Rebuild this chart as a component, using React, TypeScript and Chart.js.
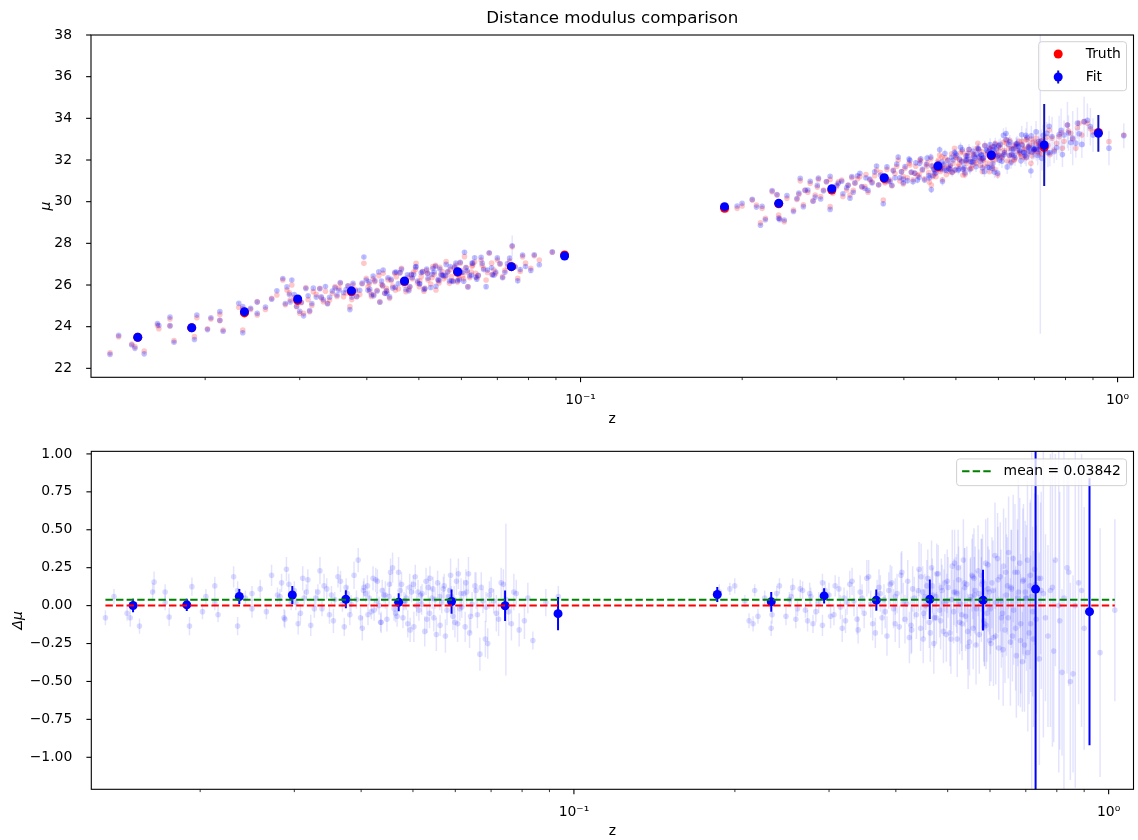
import React, { useEffect, useRef } from 'react';
import { Chart, registerables } from 'chart.js';
Chart.register(...registerables);

const FONT = 'DejaVu Sans';
const FS = 13.9;

const TITLE = 'Distance modulus comparison';
const X_LABEL = 'z';
const Y_LABEL_TOP = 'μ';
const Y_LABEL_BOTTOM = 'Δμ';
const LEGEND_TOP = ['Truth', 'Fit'];
const MEAN_DMU = 0.03842;
const LEGEND_BOTTOM = `mean = ${MEAN_DMU}`;

const Y_TICKS_TOP = [22, 24, 26, 28, 30, 32, 34, 36, 38];
const Y_TICKS_BOTTOM = [-1, -0.75, -0.5, -0.25, 0, 0.25, 0.5, 0.75, 1];
const X_MAJOR_TICKS = [0.1, 1];
const X_TICK_LABELS = ['10\u207B\u00B9', '10\u2070'];

const TOP_X_RANGE = [0.012259, 1.0707];
const TOP_Y_RANGE = [21.57, 38];
const BOT_X_RANGE = [0.012515, 1.113];
const BOT_Y_RANGE = [-1.211, 1.017];

// ---- individual objects: low-redshift sample ----
const Z_LOW = [
  0.0133, 0.0138, 0.0146, 0.0148, 0.0154, 0.0163, 0.0164, 0.0172, 0.0172, 0.0175,
  0.0193, 0.0191, 0.0202, 0.0205, 0.0213, 0.0213, 0.0216, 0.0231, 0.0235, 0.0235,
  0.0243, 0.0250, 0.0250, 0.0259, 0.0266, 0.0272, 0.0279, 0.0284, 0.0288, 0.0290,
  0.0296, 0.0300, 0.0305, 0.0313, 0.0318, 0.0327, 0.0332, 0.0341, 0.0349, 0.0357,
  0.0362, 0.0372, 0.0377, 0.0383, 0.0395, 0.0399, 0.0405, 0.0414, 0.0423, 0.0429,
  0.0435, 0.0441, 0.0454, 0.0464, 0.0473, 0.0484, 0.0494, 0.0501, 0.0508, 0.0520,
  0.0531, 0.0538, 0.0550, 0.0562, 0.0570, 0.0582, 0.0594, 0.0608, 0.0617, 0.0630,
  0.0638, 0.0653, 0.0667, 0.0676, 0.0690, 0.0700, 0.0716, 0.0731, 0.0746, 0.0764,
  0.0780, 0.0808, 0.0838, 0.0886, 0.0935,
  0.0282, 0.0287, 0.0293, 0.0302, 0.0308, 0.0311, 0.0316, 0.0322, 0.0329, 0.0335,
  0.0338, 0.0345, 0.0352, 0.0355, 0.0366, 0.0369, 0.0375, 0.0381, 0.0388, 0.0392,
  0.0402, 0.0408, 0.0411, 0.0418, 0.0426, 0.0432, 0.0438, 0.0447, 0.0451, 0.0458,
  0.0467, 0.0476, 0.0481, 0.0489, 0.0497, 0.0505, 0.0513, 0.0517, 0.0526, 0.0534,
  0.0543, 0.0547, 0.0556, 0.0566, 0.0575, 0.0586, 0.0590, 0.0599, 0.0603, 0.0612,
  0.0622, 0.0626, 0.0635, 0.0645, 0.0660, 0.0671, 0.0683, 0.0695, 0.0708, 0.0723,
  0.0738, 0.0755, 0.0772, 0.0790, 0.0820,
  0.0404, 0.0412, 0.0421, 0.0428, 0.0436, 0.0444, 0.0452, 0.0461, 0.0470, 0.0479,
  0.0486, 0.0493, 0.0502, 0.0511, 0.0519, 0.0529, 0.0537, 0.0545, 0.0553, 0.0561,
  0.0572, 0.0579, 0.0588, 0.0597, 0.0606, 0.0615, 0.0628, 0.0641, 0.0656, 0.0685,
];
const MU_LOW = [
  22.75, 23.52, 23.17, 23.04, 22.83, 24.06, 23.90, 24.37, 24.03, 23.33,
  24.43, 23.52, 23.90, 24.37, 24.59, 24.29, 23.84, 24.93, 23.84, 24.86,
  24.83, 25.20, 24.56, 24.83, 25.36, 25.52, 26.24, 25.76, 25.28, 26.00,
  24.96, 24.64, 24.64, 24.72, 25.68, 25.84, 25.20, 25.28, 25.92, 26.08,
  25.44, 24.96, 26.00, 25.44, 27.04, 26.32, 25.68, 26.16, 25.20, 26.56,
  25.84, 25.36, 26.40, 26.80, 25.68, 26.48, 27.04, 25.92, 26.64, 26.24,
  26.88, 25.76, 26.48, 27.12, 26.08, 26.80, 26.32, 27.36, 25.92, 26.96,
  26.56, 27.20, 26.24, 27.52, 26.72, 27.20, 26.40, 26.88, 27.84, 26.32,
  27.36, 26.80, 27.20, 27.57, 27.43,
  25.05, 25.62, 25.40, 25.15, 25.88, 25.30, 25.02, 25.55, 25.38, 25.70,
  25.12, 25.60, 25.45, 25.85, 25.62, 25.95, 25.30, 25.78, 25.55, 26.05,
  25.90, 25.45, 26.30, 25.75, 26.02, 25.60, 26.25, 25.95, 26.55, 25.82,
  26.18, 26.35, 25.90, 26.62, 26.10, 26.40, 25.85, 26.70, 26.05, 26.50,
  26.22, 26.85, 26.30, 26.62, 26.40, 26.95, 26.15, 26.70, 26.45, 26.85,
  26.35, 26.62, 27.10, 26.45, 26.80, 26.60, 27.05, 26.55, 27.00, 26.70,
  27.15, 26.90, 26.65, 27.05, 27.40,
  26.05, 25.55, 26.45, 25.95, 25.70, 26.20, 25.75, 26.60, 26.00, 25.80,
  26.30, 26.75, 26.20, 25.70, 26.55, 26.35, 26.95, 26.10, 26.65, 26.40,
  26.75, 26.20, 26.55, 27.05, 26.30, 26.60, 26.90, 26.35, 26.95, 26.50,
];
const DMU_LOW = [
  -0.08, 0.06, -0.05, -0.08, -0.135, 0.09, 0.155, 0.09, 0.02, -0.075,
  0.125, -0.135, -0.04, 0.06, 0.13, 0.02, -0.06, 0.19, -0.135, 0.10,
  0.05, -0.02, 0.08, 0.11, -0.04, 0.20, 0.07, 0.15, -0.09, 0.24,
  0.02, 0.10, -0.12, 0.05, 0.17, -0.02, 0.09, 0.13, -0.06, 0.04,
  0.19, -0.14, 0.08, 0.01, 0.30, -0.08, 0.12, 0.05, -0.03, 0.16,
  -0.11, 0.07, 0.22, -0.05, 0.10, 0.03, -0.16, 0.14, 0.00, 0.08,
  -0.09, 0.18, 0.04, -0.13, 0.11, 0.06, -0.07, 0.21, -0.01, 0.09,
  -0.18, 0.13, -0.32, 0.03, -0.25, 0.10, -0.05, 0.15, 0.04, -0.12,
  0.08, -0.10, -0.23, 0.02, 0.06,
  0.06, -0.08, 0.14, 0.02, -0.05, 0.18, 0.09, -0.13, 0.05, 0.23,
  -0.02, 0.11, 0.07, -0.10, 0.16, 0.01, 0.12, -0.06, 0.20, 0.04,
  -0.15, 0.08, 0.13, -0.04, 0.17, 0.00, 0.10, -0.09, 0.06, 0.25,
  -0.07, 0.14, 0.03, -0.12, 0.09, 0.19, -0.03, 0.07, -0.17, 0.12,
  0.05, -0.08, 0.15, 0.02, -0.20, 0.10, 0.06, -0.11, 0.16, -0.02,
  0.08, -0.14, 0.21, 0.01, -0.06, 0.12, -0.22, 0.07, 0.03, -0.09,
  0.14, -0.04, 0.09, -0.16, 0.05,
  0.10, -0.06, 0.18, 0.03, -0.11, 0.07, 0.14, -0.02, 0.22, -0.08,
  0.05, 0.12, -0.14, 0.09, 0.01, 0.16, -0.05, 0.11, -0.19, 0.06,
  0.13, -0.03, 0.20, 0.04, -0.12, 0.08, 0.15, -0.07, 0.10, -0.01,
];
const ERR_LOW = [
  0.05, 0.05, 0.05, 0.06, 0.05, 0.06, 0.07, 0.05, 0.05, 0.06,
  0.06, 0.06, 0.05, 0.05, 0.06, 0.05, 0.05, 0.07, 0.06, 0.06,
  0.05, 0.06, 0.05, 0.06, 0.05, 0.07, 0.05, 0.06, 0.06, 0.08,
  0.05, 0.06, 0.07, 0.05, 0.07, 0.06, 0.05, 0.08, 0.06, 0.05,
  0.07, 0.06, 0.05, 0.06, 0.08, 0.07, 0.06, 0.05, 0.07, 0.08,
  0.06, 0.05, 0.09, 0.06, 0.07, 0.05, 0.08, 0.06, 0.07, 0.06,
  0.09, 0.08, 0.06, 0.07, 0.08, 0.06, 0.09, 0.10, 0.07, 0.08,
  0.10, 0.09, 0.11, 0.08, 0.10, 0.09, 0.12, 0.10, 0.50, 0.11,
  0.09, 0.12, 0.06, 0.09, 0.07,
  0.05, 0.06, 0.07, 0.05, 0.06, 0.08, 0.05, 0.07, 0.06, 0.09,
  0.05, 0.07, 0.06, 0.08, 0.07, 0.05, 0.06, 0.07, 0.09, 0.06,
  0.08, 0.06, 0.07, 0.05, 0.08, 0.06, 0.07, 0.08, 0.06, 0.10,
  0.07, 0.08, 0.06, 0.09, 0.07, 0.08, 0.07, 0.06, 0.10, 0.08,
  0.07, 0.09, 0.08, 0.07, 0.11, 0.08, 0.07, 0.10, 0.09, 0.08,
  0.09, 0.10, 0.11, 0.08, 0.09, 0.10, 0.12, 0.09, 0.08, 0.11,
  0.10, 0.09, 0.12, 0.11, 0.10,
  0.06, 0.07, 0.08, 0.06, 0.07, 0.09, 0.07, 0.08, 0.10, 0.07,
  0.08, 0.09, 0.10, 0.08, 0.07, 0.09, 0.10, 0.08, 0.11, 0.09,
  0.08, 0.10, 0.11, 0.09, 0.12, 0.10, 0.09, 0.11, 0.12, 0.10,
];

// ---- individual objects: high-redshift sample ----
const Z_HIGH = [
  0.1957, 0.1999, 0.2088, 0.2126, 0.2178, 0.2163, 0.2209, 0.2274, 0.2322, 0.2338,
  0.2347, 0.2395, 0.2423, 0.2492, 0.2529, 0.2565, 0.2619, 0.2677, 0.2735, 0.2773,
  0.2834, 0.2916, 0.2916, 0.2999, 0.3064, 0.3130, 0.3175, 0.3243, 0.3313, 0.3385,
  0.3458, 0.3558, 0.3662, 0.3741, 0.3822, 0.3904, 0.3989, 0.4104, 0.4192, 0.4282,
  0.4406, 0.4500, 0.4530, 0.4664, 0.4764, 0.4866, 0.4971, 0.5078, 0.5151, 0.5262,
  0.5376, 0.5493, 0.5611, 0.5773, 0.5856, 0.5981, 0.6025, 0.6198, 0.6332, 0.6469,
  0.6608, 0.6751, 0.6897, 0.6996, 0.7147, 0.7459, 0.7618, 0.7783, 0.7894, 0.8066,
  0.8182, 0.8360, 0.8479, 0.8662, 0.8787, 0.9638, 1.0270, 0.1854, 0.1870,
  0.2550, 0.2600, 0.2650, 0.2710, 0.2760, 0.2800, 0.2870, 0.2950, 0.3020, 0.3080, 0.3150, 0.3200,
  0.3220, 0.3280, 0.3340, 0.3400, 0.3430, 0.3490, 0.3530, 0.3590, 0.3620, 0.3690,
  0.3720, 0.3770, 0.3800, 0.3850, 0.3880, 0.3930, 0.3960, 0.3990,
  0.4020, 0.4060, 0.4090, 0.4130, 0.4160, 0.4210, 0.4240, 0.4300, 0.4330, 0.4370,
  0.4420, 0.4450, 0.4490, 0.4550, 0.4590, 0.4620, 0.4680, 0.4710, 0.4750, 0.4800,
  0.4830, 0.4880, 0.4910, 0.4940, 0.4980, 0.4720, 0.4460, 0.4270,
  0.5010, 0.5050, 0.5100, 0.5130, 0.5180, 0.5210, 0.5240, 0.5290, 0.5320, 0.5350,
  0.5400, 0.5430, 0.5460, 0.5520, 0.5550, 0.5580, 0.5630, 0.5660, 0.5700, 0.5730,
  0.5780, 0.5810, 0.5840, 0.5890, 0.5920, 0.5950, 0.5990, 0.5200, 0.5600, 0.5900,
  0.6050, 0.6090, 0.6130, 0.6160, 0.6230, 0.6270, 0.6300, 0.6360, 0.6400, 0.6440,
  0.6500, 0.6550, 0.6580, 0.6640, 0.6680, 0.6720, 0.6780, 0.6820, 0.6850, 0.6930,
  0.6960, 0.7020, 0.7050, 0.7100, 0.7130, 0.7180, 0.7230, 0.7270, 0.7320, 0.7380,
  0.7420, 0.7480,
  0.7550, 0.7700, 0.7850, 0.7950, 0.8100, 0.8250, 0.8420, 0.8580, 0.8900, 0.9000,
  0.4510, 0.4570, 0.4640, 0.4690, 0.4770, 0.4850, 0.4920, 0.4990, 0.5070, 0.5140,
  0.5230, 0.5310, 0.5380, 0.5450, 0.5510, 0.5570, 0.5650, 0.5720, 0.5790, 0.5860,
  0.5940, 0.6010, 0.6080, 0.6150, 0.6210, 0.6290, 0.6350, 0.6420, 0.6490, 0.6570,
  0.6630, 0.6700, 0.6760, 0.6840, 0.6910, 0.6980, 0.7060, 0.7140, 0.7210, 0.7300,
];
const MU_HIGH = [
  29.68, 29.79, 30.08, 29.84, 29.68, 28.99, 29.20, 30.48, 30.32, 29.36,
  29.20, 29.04, 30.16, 29.60, 30.11, 31.00, 30.56, 30.88, 30.32, 31.07,
  30.56, 31.07, 29.76, 30.72, 31.04, 30.56, 30.32, 30.88, 31.20, 30.72,
  31.04, 31.52, 30.08, 30.96, 31.52, 32.00, 31.20, 31.76, 31.36, 32.00,
  31.68, 30.80, 31.20, 32.24, 31.60, 31.44, 32.56, 32.00, 31.28, 32.32,
  31.76, 32.80, 32.00, 31.44, 32.64, 31.28, 32.24, 32.96, 31.92, 32.64,
  32.16, 32.96, 31.84, 32.48, 32.80, 33.44, 32.48, 33.12, 32.56, 33.68,
  33.28, 32.56, 33.76, 33.84, 33.76, 32.88, 33.20, 29.68, 29.60,
  30.35, 29.85, 30.45, 30.05, 30.70, 30.25, 30.95, 30.40, 30.95, 30.25, 30.80, 31.15,
  30.55, 31.10, 30.70, 31.30, 30.45, 30.95, 31.25, 30.80, 31.40, 30.90,
  31.55, 31.05, 30.75, 31.35, 31.70, 31.00, 31.45, 30.85,
  31.60, 31.15, 31.85, 31.40, 31.05, 31.70, 31.25, 31.95, 31.50, 31.10,
  31.85, 31.40, 32.05, 31.55, 31.20, 31.90, 31.45, 32.15, 31.75, 31.30,
  32.00, 31.65, 32.30, 31.85, 31.50, 31.05, 30.95, 31.30,
  32.10, 31.70, 32.35, 31.95, 31.55, 32.20, 31.85, 32.50, 32.05, 31.60,
  32.25, 31.95, 32.55, 32.10, 31.75, 32.40, 32.00, 32.70, 32.25, 31.85,
  32.50, 32.10, 31.70, 32.35, 32.80, 32.05, 32.45, 31.30, 31.45, 31.55,
  32.60, 32.15, 32.85, 32.35, 31.95, 32.55, 32.95, 32.25, 32.70, 32.05,
  32.45, 32.90, 32.30, 32.75, 32.15, 32.55, 33.00, 32.35, 32.70, 32.20,
  32.85, 32.50, 33.05, 32.40, 32.75, 32.60, 32.30, 32.95, 32.55, 33.10,
  32.70, 32.25,
  33.05, 32.80, 33.30, 32.90, 33.40, 33.00, 33.55, 33.20, 33.50, 33.35,
  31.75, 31.35, 32.00, 31.55, 32.10, 31.70, 31.40, 32.15, 31.80, 32.40,
  31.95, 31.60, 32.30, 31.85, 32.50, 32.05, 31.70, 32.35, 32.60, 31.95,
  32.25, 32.70, 32.10, 32.45, 32.80, 32.20, 32.55, 32.00, 32.75, 32.35,
  32.90, 32.50, 32.10, 32.65, 33.00, 32.40, 32.80, 32.30, 32.95, 32.60,
];
const DMU_HIGH = [
  0.11, 0.13, 0.03, -0.10, 0.10, -0.12, -0.07, 0.05, 0.02, -0.15,
  -0.06, 0.08, 0.13, -0.07, 0.04, 0.12, -0.02, 0.10, -0.10, 0.06,
  -0.04, 0.15, -0.13, 0.07, -0.06, 0.11, -0.15, 0.02, 0.16, -0.09,
  0.05, 0.19, -0.18, 0.08, -0.04, 0.14, -0.12, 0.22, 0.01, -0.16,
  0.10, -0.22, 0.06, 0.25, -0.08, 0.12, -0.19, 0.04, 0.28, -0.11,
  0.15, -0.24, 0.07, 0.20, -0.14, 0.09, -0.25, 0.31, -0.05, 0.13,
  -0.20, 0.22, -0.37, 0.05, -0.12, 0.18, -0.08, 0.10, -0.30, 0.00,
  -0.44, 0.25, -0.50, 0.00, 0.15, -0.31, -0.03, 0.06, 0.09,
  0.06, -0.09, 0.11, -0.03, 0.08, -0.12, 0.02, 0.10, -0.07, 0.13, -0.01, 0.05,
  -0.10, 0.14, 0.03, -0.16, 0.09, -0.05, 0.18, 0.01, -0.12, 0.07,
  0.12, -0.08, 0.04, -0.20, 0.10, 0.15, -0.02, 0.06,
  0.08, -0.14, 0.20, 0.02, -0.09, 0.16, -0.21, 0.11, 0.05, -0.06,
  0.24, -0.15, 0.09, 0.00, 0.18, -0.11, 0.13, -0.25, 0.06, 0.21,
  -0.03, 0.10, -0.17, 0.15, 0.03, -0.08, 0.19, -0.13,
  0.12, -0.18, 0.26, -0.04, 0.09, -0.22, 0.17, 0.01, -0.12, 0.30,
  -0.07, 0.14, -0.27, 0.06, 0.20, -0.15, 0.10, -0.02, 0.23, -0.19,
  0.04, 0.16, -0.10, 0.28, -0.05, 0.11, -0.23, 0.08, 0.18, -0.13,
  0.15, -0.21, 0.33, 0.02, -0.28, 0.19, -0.08, 0.26, -0.16, 0.07,
  0.35, -0.24, 0.11, -0.03, 0.22, -0.33, 0.09, 0.28, -0.12, 0.17,
  -0.26, 0.05, 0.30, -0.18, 0.13, 0.06, -0.22, 0.24, -0.09, 0.18,
  -0.35, 0.10,
  0.08, -0.20, 0.12, 0.30, -0.10, 0.05, 0.22, -0.45, 0.10, -0.15,
  -0.05, 0.13, -0.18, 0.07, 0.21, -0.10, 0.02, 0.16, -0.22, 0.09,
  0.25, -0.06, 0.12, -0.17, 0.04, 0.19, -0.26, 0.08, 0.14, -0.12,
  0.27, -0.02, 0.10, -0.20, 0.17, 0.03, -0.29, 0.22, -0.08, 0.12,
  0.31, -0.15, 0.05, -0.23, 0.16, 0.09, -0.31, 0.20, -0.04, 0.14,
];
const ERR_HIGH = [
  0.04, 0.05, 0.04, 0.05, 0.04, 0.05, 0.05, 0.05, 0.04, 0.05,
  0.06, 0.05, 0.05, 0.06, 0.05, 0.06, 0.05, 0.06, 0.07, 0.06,
  0.07, 0.06, 0.07, 0.08, 0.07, 0.08, 0.09, 0.08, 0.09, 0.10,
  0.09, 0.11, 0.10, 0.12, 0.11, 0.13, 0.12, 0.14, 0.13, 0.15,
  0.14, 0.16, 0.15, 0.18, 0.17, 0.19, 0.18, 0.20, 0.22, 0.21,
  0.23, 0.22, 0.25, 0.24, 0.26, 0.28, 0.25, 0.30, 0.29, 0.32,
  0.30, 0.35, 0.33, 0.40, 0.45, 0.50, 0.55, 0.90, 0.60, 1.10,
  0.55, 0.70, 0.65, 1.20, 0.80, 0.82, 0.60, 0.04, 0.05,
  0.05, 0.06, 0.06, 0.05, 0.07, 0.06, 0.07, 0.06, 0.08, 0.07, 0.08, 0.07,
  0.08, 0.09, 0.10, 0.09, 0.11, 0.10, 0.12, 0.09, 0.11, 0.10,
  0.12, 0.11, 0.10, 0.13, 0.12, 0.11, 0.13, 0.12,
  0.13, 0.14, 0.15, 0.13, 0.16, 0.14, 0.17, 0.15, 0.14, 0.16,
  0.18, 0.15, 0.17, 0.16, 0.19, 0.17, 0.18, 0.20, 0.16, 0.19,
  0.18, 0.17, 0.21, 0.19, 0.18, 0.20, 0.22, 0.19,
  0.20, 0.22, 0.24, 0.21, 0.23, 0.25, 0.22, 0.26, 0.24, 0.27,
  0.23, 0.25, 0.28, 0.26, 0.24, 0.27, 0.29, 0.25, 0.30, 0.26,
  0.28, 0.31, 0.27, 0.29, 0.32, 0.28, 0.30, 0.26, 0.33, 0.29,
  0.30, 0.32, 0.35, 0.31, 0.34, 0.36, 0.33, 0.38, 0.35, 0.40,
  0.37, 0.42, 0.39, 0.36, 0.45, 0.41, 0.75, 0.43, 0.46, 0.50,
  0.44, 0.48, 0.52, 0.47, 0.55, 9.0, 0.58, 0.50, 0.62, 0.55,
  0.70, 0.65,
  0.95, 0.60, 1.05, 0.70, 0.85, 1.30, 0.75, 0.65, 0.90, 0.80,
  0.16, 0.17, 0.19, 0.18, 0.20, 0.19, 0.22, 0.21, 0.23, 0.22,
  0.25, 0.24, 0.26, 0.25, 0.27, 0.28, 0.26, 0.29, 0.30, 0.28,
  0.31, 0.30, 0.33, 0.32, 0.35, 0.34, 0.37, 0.36, 0.40, 0.38,
  0.42, 0.41, 0.45, 0.44, 0.48, 0.47, 0.52, 0.50, 0.56, 0.55,
];

// ---- binned values ----
const BIN_Z = [0.01498, 0.01888, 0.02367, 0.02974, 0.03745, 0.04702, 0.05904, 0.07435, 0.09339,
  0.1854, 0.2339, 0.2937, 0.3677, 0.4630, 0.5822, 0.7301, 0.9209];
const BIN_MU_FIT = [23.49, 23.95, 24.72, 25.33, 25.72, 26.19, 26.64, 26.88, 27.39,
  29.76, 29.92, 30.62, 31.15, 31.71, 32.24, 32.72, 33.28];
const BIN_DMU = [0.001, 0.005, 0.06, 0.07, 0.042, 0.022, 0.027, -0.001, -0.053,
  0.073, 0.025, 0.064, 0.036, 0.042, 0.036, 0.109, -0.04];
const BIN_ERR = [0.045, 0.04, 0.05, 0.06, 0.06, 0.06, 0.08, 0.10, 0.11,
  0.05, 0.065, 0.05, 0.07, 0.13, 0.20, 1.97, 0.88];

// ---------------------------------------------------------------
const Z = [...Z_LOW, ...Z_HIGH];
const MU = [...MU_LOW, ...MU_HIGH];
const DMU = [...DMU_LOW, ...DMU_HIGH];
const ERR = [...ERR_LOW, ...ERR_HIGH];

const errorBars = {
  id: 'errorBars',
  beforeDatasetDraw(chart: any, args: any) {
    const ds: any = chart.data.datasets[args.index];
    if (!ds.errs) return;
    const { ctx, chartArea: a } = chart;
    const xs = chart.scales.x;
    const ys = chart.scales.y;
    ctx.save();
    ctx.beginPath();
    ctx.rect(a.left, a.top, a.right - a.left, a.bottom - a.top);
    ctx.clip();
    ctx.strokeStyle = ds.errColor;
    ctx.lineWidth = ds.errWidth;
    ds.data.forEach((p: any, i: number) => {
      const e = ds.errs[i];
      const x = xs.getPixelForValue(p.x);
      ctx.beginPath();
      ctx.moveTo(x, ys.getPixelForValue(p.y - e));
      ctx.lineTo(x, ys.getPixelForValue(p.y + e));
      ctx.stroke();
    });
    ctx.restore();
  },
};

function seg(ctx: any, x1: number, y1: number, x2: number, y2: number) {
  ctx.beginPath();
  ctx.moveTo(x1, y1);
  ctx.lineTo(x2, y2);
  ctx.stroke();
}

function dot(ctx: any, x: number, y: number, r: number, c: string) {
  ctx.beginPath();
  ctx.arc(x, y, r, 0, Math.PI * 2);
  ctx.fillStyle = c;
  ctx.fill();
}

function legendBox(ctx: any, x: number, y: number, w: number, h: number) {
  ctx.beginPath();
  ctx.roundRect(x, y, w, h, 3);
  ctx.fillStyle = 'rgba(255,255,255,0.8)';
  ctx.fill();
  ctx.strokeStyle = 'rgba(204,204,204,0.9)';
  ctx.lineWidth = 1;
  ctx.stroke();
}

function drawFrame(chart: any) {
  const { ctx, chartArea: a } = chart;
  const xs = chart.scales.x;
  const ys = chart.scales.y;
  ctx.save();
  ctx.strokeStyle = '#000';
  ctx.lineWidth = 1.1;
  for (const v of X_MAJOR_TICKS) {
    if (v < xs.min || v > xs.max) continue;
    const x = xs.getPixelForValue(v);
    seg(ctx, x, a.bottom, x, a.bottom + 4.9);
  }
  ctx.lineWidth = 0.8;
  for (let k = -3; k <= 0; k++) {
    for (let m = 2; m <= 9; m++) {
      const v = m * Math.pow(10, k);
      if (v < xs.min || v > xs.max) continue;
      const x = xs.getPixelForValue(v);
      seg(ctx, x, a.bottom, x, a.bottom + 2.8);
    }
  }
  ctx.lineWidth = 1.1;
  ys.ticks.forEach((t: any) => {
    const y = ys.getPixelForValue(t.value);
    seg(ctx, a.left - 4.9, y, a.left, y);
  });
  ctx.strokeRect(a.left, a.top, a.right - a.left, a.bottom - a.top);
  ctx.restore();
}

const topFrame = {
  id: 'topFrame',
  afterDatasetsDraw(chart: any) {
    drawFrame(chart);
    const { ctx, chartArea: a } = chart;
    ctx.save();
    ctx.font = `${FS}px '${FONT}'`;
    const tw = Math.max(...LEGEND_TOP.map((t) => ctx.measureText(t).width));
    const w = 47 + tw + 5.6;
    const h = 49;
    const x0 = a.right - 7 - w;
    const y0 = a.top + 6.7;
    legendBox(ctx, x0, y0, w, h);
    const hx = x0 + 19.5;
    const r1 = y0 + 12.3;
    const r2 = y0 + 35.3;
    dot(ctx, hx, r1, 4.5, 'red');
    ctx.strokeStyle = '#1414b4';
    ctx.lineWidth = 2;
    seg(ctx, hx, r2 - 6.5, hx, r2 + 6.5);
    dot(ctx, hx, r2, 4.5, 'blue');
    ctx.fillStyle = '#000';
    ctx.textBaseline = 'middle';
    ctx.textAlign = 'left';
    ctx.fillText(LEGEND_TOP[0], x0 + 47, r1);
    ctx.fillText(LEGEND_TOP[1], x0 + 47, r2);
    ctx.restore();
  },
};

const bottomFrame = {
  id: 'bottomFrame',
  afterDatasetsDraw(chart: any) {
    drawFrame(chart);
    const { ctx, chartArea: a } = chart;
    ctx.save();
    ctx.font = `${FS}px '${FONT}'`;
    const tw = ctx.measureText(LEGEND_BOTTOM).width;
    const w = 47 + tw + 5.6;
    const h = 26.7;
    const x0 = a.right - 7 - w;
    const y0 = a.top + 7.6;
    legendBox(ctx, x0, y0, w, h);
    const r1 = y0 + 12.4;
    ctx.strokeStyle = 'green';
    ctx.lineWidth = 2;
    ctx.setLineDash([7.4, 3.2]);
    seg(ctx, x0 + 5.5, r1, x0 + 35.5, r1);
    ctx.setLineDash([]);
    ctx.fillStyle = '#000';
    ctx.textBaseline = 'middle';
    ctx.textAlign = 'left';
    ctx.fillText(LEGEND_BOTTOM, x0 + 47, r1);
    ctx.restore();
  },
};

const tickFont = { family: FONT, size: FS };

function xScale(range: number[], height: number, titlePadBottom: number): any {
  return {
    type: 'logarithmic',
    position: 'bottom',
    min: range[0],
    max: range[1],
    grid: { display: false },
    border: { display: false },
    ticks: {
      font: tickFont,
      color: '#000',
      padding: 7,
      maxRotation: 0,
      autoSkip: false,
      callback: (v: number) => {
        const i = X_MAJOR_TICKS.indexOf(v);
        return i >= 0 ? X_TICK_LABELS[i] : '';
      },
    },
    title: {
      display: true,
      text: X_LABEL,
      font: tickFont,
      color: '#000',
      padding: { top: 0, bottom: titlePadBottom },
    },
    afterBuildTicks: (s: any) => {
      s.ticks = X_MAJOR_TICKS.filter((v) => v >= s.min && v <= s.max).map((v) => ({ value: v, major: true }));
    },
    afterFit: (s: any) => {
      s.height = height;
    },
  };
}

function yScale(range: number[], ticks: number[], fmt: (v: number) => string, width: number, label: string, titlePad: number): any {
  return {
    type: 'linear',
    position: 'left',
    min: range[0],
    max: range[1],
    grid: { display: false },
    border: { display: false },
    ticks: {
      font: tickFont,
      color: '#000',
      padding: 11,
      autoSkip: false,
      callback: (v: number) => fmt(v),
    },
    title: {
      display: true,
      text: label,
      font: { family: FONT, size: FS, style: 'italic' },
      color: '#000',
      padding: { top: titlePad, bottom: 0 },
    },
    afterBuildTicks: (s: any) => {
      s.ticks = ticks.map((v) => ({ value: v }));
    },
    afterFit: (s: any) => {
      s.width = width;
    },
  };
}

function topConfig(): any {
  return {
    type: 'scatter',
    data: {
      datasets: [
        {
          label: 'Truth',
          data: Z.map((z, i) => ({ x: z, y: MU[i] })),
          backgroundColor: 'rgba(255,0,0,0.22)',
          borderWidth: 0,
          pointRadius: 2.8,
          order: 10,
        },
        {
          label: 'Fit',
          data: Z.map((z, i) => ({ x: z, y: MU[i] + DMU[i] })),
          errs: ERR,
          errColor: 'rgba(0,0,255,0.1)',
          errWidth: 1.5,
          backgroundColor: 'rgba(0,0,255,0.25)',
          borderWidth: 0,
          pointRadius: 2.8,
          order: 9,
        },
        {
          label: 'Truth (binned)',
          data: BIN_Z.map((z, i) => ({ x: z, y: BIN_MU_FIT[i] - BIN_DMU[i] })),
          backgroundColor: 'red',
          borderWidth: 0,
          pointRadius: 4.5,
          order: 8,
        },
        {
          label: 'Fit (binned)',
          data: BIN_Z.map((z, i) => ({ x: z, y: BIN_MU_FIT[i] })),
          errs: BIN_ERR,
          errColor: '#1414b4',
          errWidth: 2,
          backgroundColor: 'blue',
          borderWidth: 0,
          pointRadius: 4.5,
          order: 7,
        },
      ],
    },
    options: {
      responsive: false,
      animation: false,
      devicePixelRatio: 1,
      events: [],
      layout: { padding: 0 },
      plugins: {
        legend: { display: false },
        tooltip: { enabled: false },
        title: {
          display: true,
          text: TITLE,
          fullSize: false,
          color: '#000',
          font: { family: FONT, size: 16.67, weight: 'normal' },
          padding: { top: 9, bottom: 6 },
        },
      },
      scales: {
        x: xScale(TOP_X_RANGE, 54.7, 4.7),
        y: yScale(TOP_Y_RANGE, Y_TICKS_TOP, (v) => String(v), 91, Y_LABEL_TOP, 37.7),
      },
    },
    plugins: [errorBars, topFrame],
  };
}

function bottomConfig(): any {
  const zMin = Math.min(...Z);
  const zMax = Math.max(...Z);
  return {
    type: 'scatter',
    data: {
      datasets: [
        {
          label: 'residuals',
          data: Z.map((z, i) => ({ x: z, y: DMU[i] })),
          errs: ERR,
          errColor: 'rgba(0,0,255,0.11)',
          errWidth: 1.5,
          backgroundColor: 'rgba(0,0,255,0.14)',
          borderWidth: 0,
          pointRadius: 2.8,
          order: 10,
        },
        {
          label: 'binned residuals',
          data: BIN_Z.map((z, i) => ({ x: z, y: BIN_DMU[i] })),
          errs: BIN_ERR,
          errColor: 'blue',
          errWidth: 2,
          backgroundColor: 'blue',
          borderWidth: 0,
          pointRadius: 4.5,
          order: 9,
        },
        {
          label: 'zero',
          data: [{ x: zMin, y: 0 }, { x: zMax, y: 0 }],
          showLine: true,
          borderColor: 'red',
          borderDash: [7.4, 3.2],
          borderWidth: 2,
          pointRadius: 0,
          order: 8,
        },
        {
          label: LEGEND_BOTTOM,
          data: [{ x: zMin, y: MEAN_DMU }, { x: zMax, y: MEAN_DMU }],
          showLine: true,
          borderColor: 'green',
          borderDash: [7.4, 3.2],
          borderWidth: 2,
          pointRadius: 0,
          order: 7,
        },
      ],
    },
    options: {
      responsive: false,
      animation: false,
      devicePixelRatio: 1,
      events: [],
      layout: { padding: { top: 13.7, left: 0, right: 0, bottom: 0 } },
      plugins: {
        legend: { display: false },
        tooltip: { enabled: false },
        title: { display: false },
      },
      scales: {
        x: xScale(BOT_X_RANGE, 50.7, 0),
        y: yScale(BOT_Y_RANGE, Y_TICKS_BOTTOM, (v) => v.toFixed(2).replace('-', '\u2212'), 91.3, Y_LABEL_BOTTOM, 10),
      },
    },
    plugins: [errorBars, bottomFrame],
  };
}

export default function App() {
  const topRef = useRef<HTMLCanvasElement>(null);
  const botRef = useRef<HTMLCanvasElement>(null);
  useEffect(() => {
    Chart.defaults.font.family = FONT;
    const c1 = new Chart(topRef.current as HTMLCanvasElement, topConfig());
    const c2 = new Chart(botRef.current as HTMLCanvasElement, bottomConfig());
    return () => {
      c1.destroy();
      c2.destroy();
    };
  }, []);
  return (
    <div style={{ position: 'fixed', left: 0, top: 0, width: 1138, height: 840, background: '#fff', overflow: 'hidden' }}>
      <canvas ref={topRef} width={1138} height={432} style={{ position: 'absolute', left: 0, top: 0 }} />
      <canvas ref={botRef} width={1138} height={408} style={{ position: 'absolute', left: 0, top: 432 }} />
    </div>
  );
}
